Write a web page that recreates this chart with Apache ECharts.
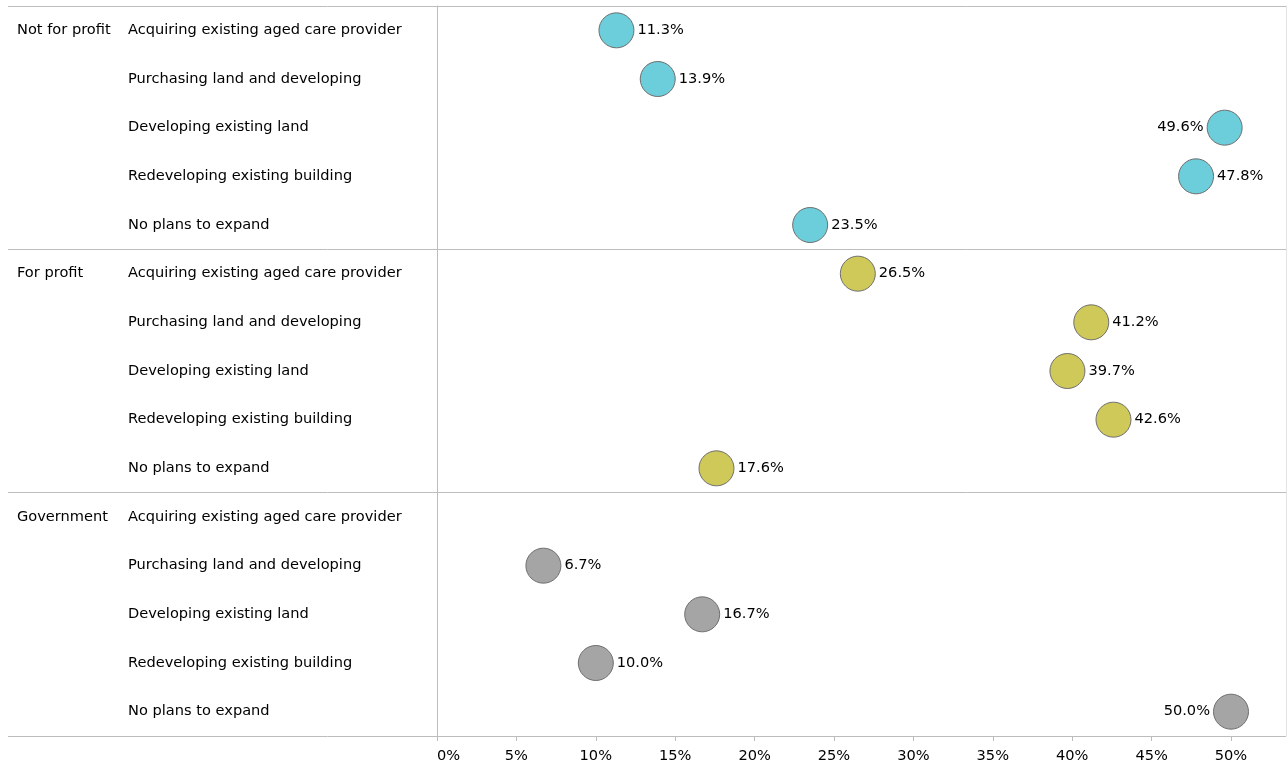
<!DOCTYPE html>
<html>
<head>
<meta charset="utf-8">
<script src="https://cdn.jsdelivr.net/npm/echarts@6/dist/echarts.min.js"></script>
<style>
  html, body { margin: 0; padding: 0; background: #ffffff; }
  #chart { width: 1287px; height: 767px; }
</style>
</head>
<body>
<div id="chart"></div>
<script>
// Ownership groups and the expansion options asked of each
const groups = ['Not for profit', 'For profit', 'Government'];
const options = [
  'Acquiring existing aged care provider',
  'Purchasing land and developing',
  'Developing existing land',
  'Redeveloping existing building',
  'No plans to expand'
];

// Share of respondents (%) per option, one array per group
const notForProfit = [11.3, 13.9, 49.6, 47.8, 23.5];
const forProfit = [26.5, 41.2, 39.7, 42.6, 17.6];
const government = [null, 6.7, 16.7, 10.0, 50.0];

// Value axis ticks
const xTicks = [0, 5, 10, 15, 20, 25, 30, 35, 40, 45, 50];

const groupValues = [notForProfit, forProfit, government];
const groupColors = ['#6ccddb', '#cfc95a', '#a5a5a5'];

const FONT = 'DejaVu Sans';
const FS = 14.6;
const rowLabels = [];
const groupLabels = [];
groups.forEach(function (g) {
  options.forEach(function (o, i) {
    rowLabels.push(o);
    groupLabels.push(i === 0 ? g : '');
  });
});

const series = groups.map(function (g, gi) {
  const data = [];
  groupValues[gi].forEach(function (v, i) {
    if (v === null) return;
    const item = { value: [v, gi * options.length + i] };
    // Points close to the right edge carry their label on the left
    if (v > 48) item.label = { position: 'left' };
    data.push(item);
  });
  return {
    name: g,
    type: 'scatter',
    xAxisIndex: 0,
    yAxisIndex: 0,
    symbolSize: 35,
    itemStyle: { color: groupColors[gi], borderColor: '#6e6e6e', borderWidth: 1, opacity: 1 },
    label: {
      show: true,
      position: 'right',
      distance: 3,
      color: '#000',
      fontFamily: FONT,
      fontSize: FS,
      formatter: function (p) { return p.value[0].toFixed(1) + '%'; }
    },
    emphasis: { disabled: true },
    data: data
  };
});

const chart = echarts.init(document.getElementById('chart'), null, { renderer: 'canvas' });
chart.setOption({
  animation: false,
  grid: [
    { left: 437, right: 56, top: 6, bottom: 31, containLabel: false },
    { left: 8, right: 1, top: 6, bottom: 31, containLabel: false }
  ],
  xAxis: [
    {
      type: 'value', gridIndex: 0,
      min: xTicks[0], max: xTicks[xTicks.length - 1], interval: 5,
      axisLine: { show: true, lineStyle: { color: '#bdbdbd' } },
      axisTick: { show: true, length: 5, lineStyle: { color: '#bdbdbd' } },
      splitLine: { show: false },
      axisLabel: {
        color: '#000', fontFamily: FONT, fontSize: FS, margin: 13,
        alignMinLabel: 'left',
        formatter: function (v) { return v + '%'; }
      }
    },
    {
      type: 'value', gridIndex: 1, min: 0, max: 1,
      show: false
    }
  ],
  yAxis: [
    {
      type: 'category', gridIndex: 0, inverse: true,
      data: rowLabels,
      position: 'left',
      axisLine: { show: true, lineStyle: { color: '#bdbdbd' } },
      axisTick: { show: false },
      splitLine: { show: false },
      axisLabel: {
        align: 'left', margin: 309, interval: 0,
        color: '#000', fontFamily: FONT, fontSize: FS
      }
    },
    {
      type: 'category', gridIndex: 0, inverse: true,
      data: groupLabels,
      position: 'left',
      axisLine: { show: false },
      axisTick: { show: false },
      splitLine: { show: false },
      axisLabel: {
        align: 'left', margin: 420, interval: 0,
        color: '#000', fontFamily: FONT, fontSize: FS
      }
    },
    {
      // Full-width separators between the ownership groups
      type: 'value', gridIndex: 1, inverse: true,
      min: 0, max: rowLabels.length, interval: options.length,
      position: 'right',
      axisLine: { show: true, onZero: false, lineStyle: { color: '#e4e4e4' } },
      axisTick: { show: false },
      axisLabel: { show: false },
      splitLine: { show: true, lineStyle: { color: '#bdbdbd', width: 1 } }
    }
  ],
  series: series
});
</script>
</body>
</html>
